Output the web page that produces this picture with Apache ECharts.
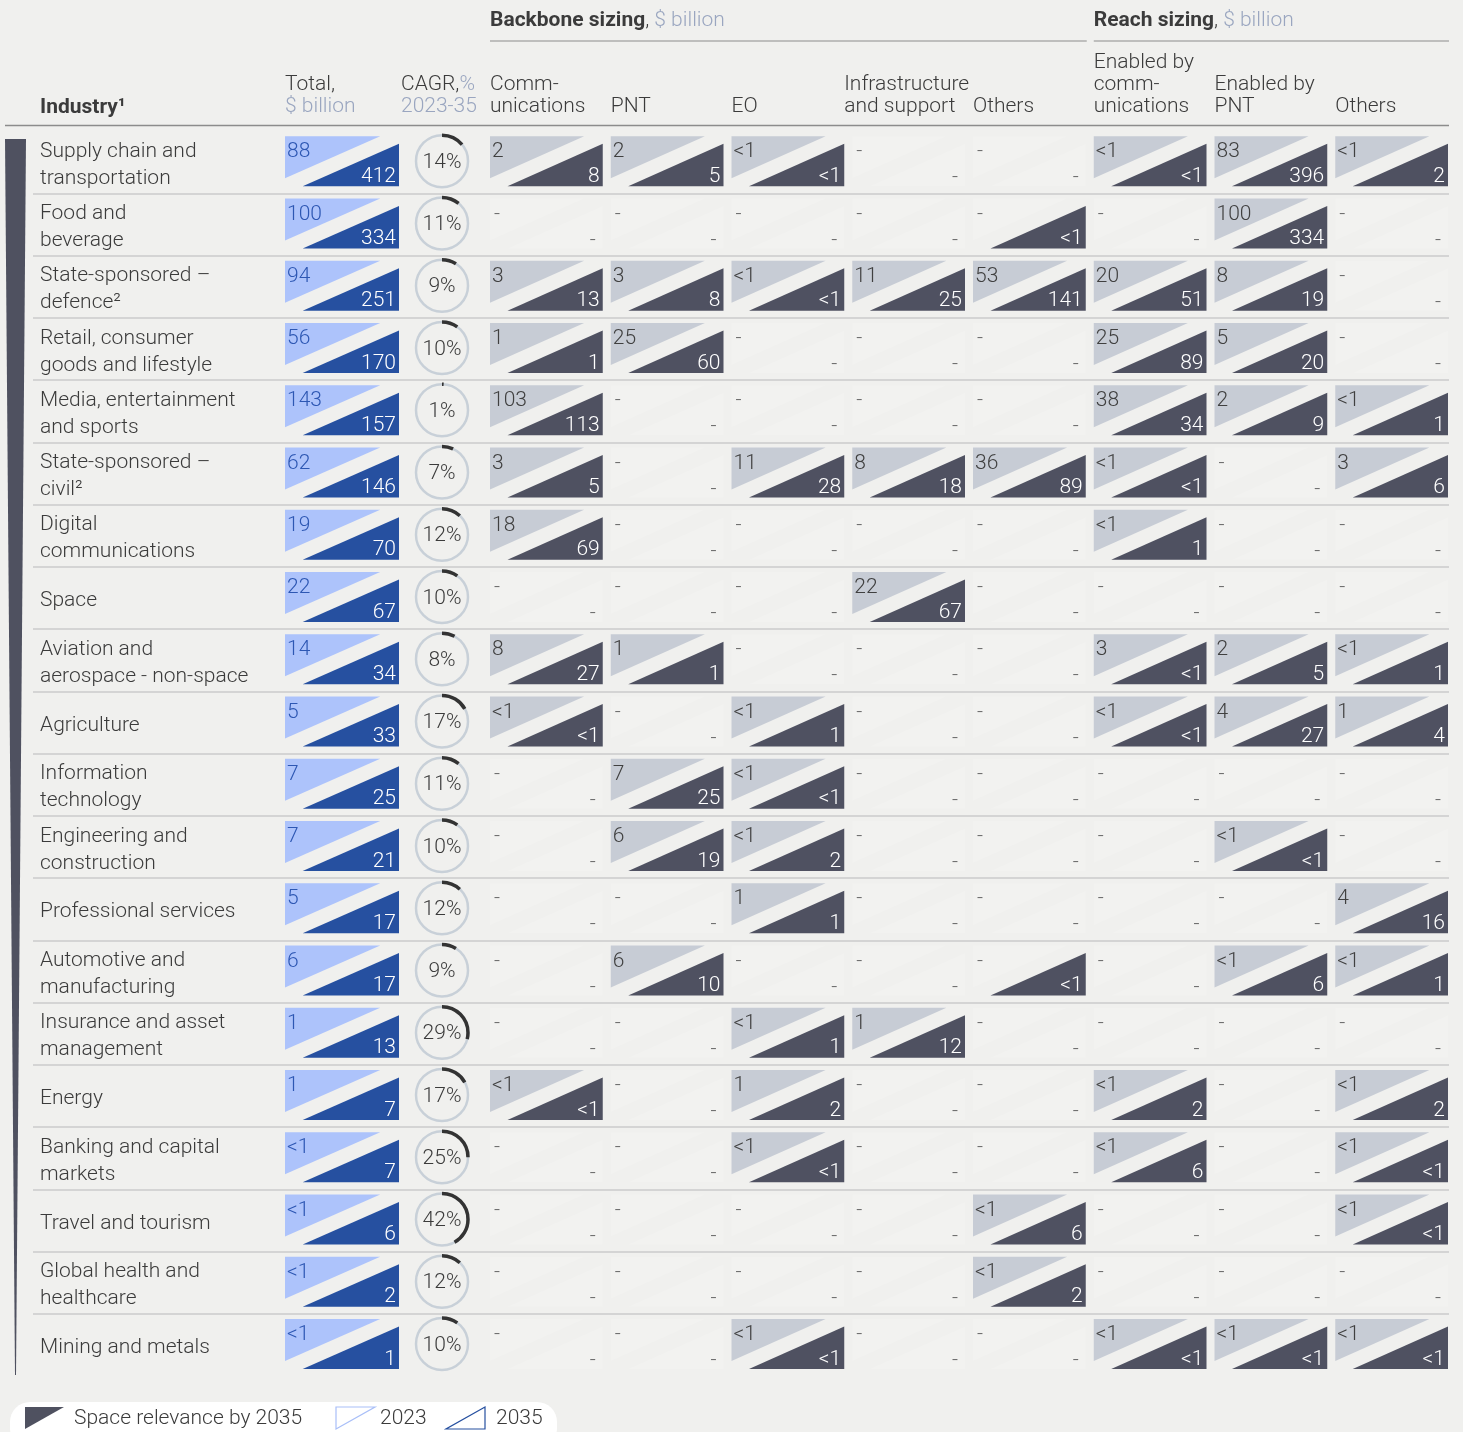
<!DOCTYPE html>
<html>
<head>
<meta charset="utf-8">
<script src="https://cdn.jsdelivr.net/npm/echarts@6/dist/echarts.min.js"></script>
<style>
  html, body { margin: 0; padding: 0; background: #f0f0ee; }
  #main { width: 1463px; height: 1432px; }
</style>
</head>
<body>
<div id="main"></div>
<script>
const industries = [
  'Supply chain and\ntransportation', 'Food and\nbeverage', 'State-sponsored –\ndefence²',
  'Retail, consumer\ngoods and lifestyle', 'Media, entertainment\nand sports', 'State-sponsored –\ncivil²',
  'Digital\ncommunications', 'Space', 'Aviation and\naerospace - non-space', 'Agriculture',
  'Information\ntechnology', 'Engineering and\nconstruction', 'Professional services',
  'Automotive and\nmanufacturing', 'Insurance and asset\nmanagement', 'Energy',
  'Banking and capital\nmarkets', 'Travel and tourism', 'Global health and\nhealthcare', 'Mining and metals'
];

const total2023 = ['88', '100', '94', '56', '143', '62', '19', '22', '14', '5', '7', '7', '5', '6', '1', '1', '<1', '<1', '<1', '<1'];
const total2035 = ['412', '334', '251', '170', '157', '146', '70', '67', '34', '33', '25', '21', '17', '17', '13', '7', '7', '6', '2', '1'];
const cagr = [14, 11, 9, 10, 1, 7, 12, 10, 8, 17, 11, 10, 12, 9, 29, 17, 25, 42, 12, 10];

const N = null;
// each cell: [2023, 2035], null = "-"
const commBackbone = [['2', '8'], N, ['3', '13'], ['1', '1'], ['103', '113'], ['3', '5'], ['18', '69'], N, ['8', '27'], ['<1', '<1'], N, N, N, N, N, ['<1', '<1'], N, N, N, N];
const pntBackbone = [['2', '5'], N, ['3', '8'], ['25', '60'], N, N, N, N, ['1', '1'], N, ['7', '25'], ['6', '19'], N, ['6', '10'], N, N, N, N, N, N];
const eoBackbone = [['<1', '<1'], N, ['<1', '<1'], N, N, ['11', '28'], N, N, N, ['<1', '1'], ['<1', '<1'], ['<1', '2'], ['1', '1'], N, ['<1', '1'], ['1', '2'], ['<1', '<1'], N, N, ['<1', '<1']];
const infraBackbone = [N, N, ['11', '25'], N, N, ['8', '18'], N, ['22', '67'], N, N, N, N, N, N, ['1', '12'], N, N, N, N, N];
const othersBackbone = [N, [N, '<1'], ['53', '141'], N, N, ['36', '89'], N, N, N, N, N, N, N, [N, '<1'], N, N, N, ['<1', '6'], ['<1', '2'], N];
const commReach = [['<1', '<1'], N, ['20', '51'], ['25', '89'], ['38', '34'], ['<1', '<1'], ['<1', '1'], N, ['3', '<1'], ['<1', '<1'], N, N, N, N, N, ['<1', '2'], ['<1', '6'], N, N, ['<1', '<1']];
const pntReach = [['83', '396'], ['100', '334'], ['8', '19'], ['5', '20'], ['2', '9'], N, N, N, ['2', '5'], ['4', '27'], N, ['<1', '<1'], N, ['<1', '6'], N, N, N, N, N, ['<1', '<1']];
const othersReach = [['<1', '2'], N, N, N, ['<1', '1'], ['3', '6'], N, N, ['<1', '1'], ['1', '4'], N, N, ['4', '16'], ['<1', '1'], N, ['<1', '2'], ['<1', '<1'], ['<1', '<1'], N, ['<1', '<1']];

const sizingCols = [commBackbone, pntBackbone, eoBackbone, infraBackbone, othersBackbone, commReach, pntReach, othersReach];
const backboneHeads = ['Comm-\nunications', 'PNT', 'EO', 'Infrastructure\nand support', 'Others'];
const reachHeads = ['Enabled by\ncomm-\nunications', 'Enabled by\nPNT', 'Others'];

const FONT = 'Roboto, "Helvetica Neue", Arial, sans-serif';
const FS = 21;
const TXT = '#3b3b3b';
const LIGHT = '#9aa6c0';

// layout
const TOP = 131, ROW_H = 62.25, BODY_H = ROW_H * industries.length;
const SZ_LEFT = 490, SZ_BAND = 120.75;

const chart = echarts.init(document.getElementById('main'));

function cellRenderer(getPair, pal) {
  return function (params, api) {
    const c = api.value(0), r = api.value(1);
    const pair = getPair(c, r) || [null, null];
    const ctr = api.coord([c, r]);
    const bw = api.size([1, 1])[0];
    const w = bw - 8, h = 50;
    const L = ctr[0] - bw / 2, T = ctr[1] - 26, R = L + w, B = T + h;
    const kids = [];
    const t23 = [[L, T], [L + 0.835 * w, T], [L, T + 0.84 * h]];
    const t35 = [[L + 0.155 * w, B], [R, B], [R, T + 0.15 * h]];
    kids.push({ type: 'polygon', shape: { points: t23 },
      style: { fill: pair[0] != null ? pal.light : 'rgba(255,255,255,0.14)' } });
    kids.push({ type: 'polygon', shape: { points: t35 },
      style: { fill: pair[1] != null ? pal.dark : 'rgba(255,255,255,0.14)' } });
    kids.push({ type: 'text', style: {
      text: pair[0] != null ? pair[0] : '-', x: L + (pair[0] != null ? 2 : 4), y: T + 16,
      fill: pair[0] != null ? pal.lightText : '#666', fontSize: FS, fontFamily: FONT, fontWeight: 300,
      align: 'left', verticalAlign: 'middle' } });
    kids.push({ type: 'text', style: {
      text: pair[1] != null ? pair[1] : '-', x: R - (pair[1] != null ? 3 : 7), y: B - (pair[1] != null ? 9.5 : 8),
      fill: pair[1] != null ? '#fff' : '#666', fontSize: FS, fontFamily: FONT, fontWeight: 300,
      align: 'right', verticalAlign: 'middle' } });
    return { type: 'group', children: kids };
  };
}

function cagrRenderer(params, api) {
  const r = api.value(1);
  const v = cagr[r];
  const ctr = api.coord([0, r]);
  const rad = 26;
  const a0 = -Math.PI / 2;
  const cy = ctr[1] - 1;
  return { type: 'group', children: [
    { type: 'circle', shape: { cx: ctr[0], cy: cy, r: rad },
      style: { fill: 'none', stroke: '#c8d0d8', lineWidth: 2.5 } },
    { type: 'arc', shape: { cx: ctr[0], cy: cy, r: rad, startAngle: a0, endAngle: a0 + v / 100 * Math.PI * 2, clockwise: true },
      style: { fill: 'none', stroke: '#333', lineWidth: 3.5 } },
    { type: 'text', style: { text: v + '%', x: ctr[0], y: cy + 1.5, fill: TXT, fontSize: FS,
      fontFamily: FONT, fontWeight: 300, align: 'center', verticalAlign: 'middle' } }
  ] };
}

const sizingData = [];
sizingCols.forEach((col, c) => col.forEach((_, r) => sizingData.push([c, r])));
const rowData = industries.map((_, r) => [0, r]);

const hiddenY = (gi) => ({ type: 'category', gridIndex: gi, data: industries, inverse: true, show: false });

// header graphics
const graphics = [];
const headText = (x, y, text, extra) => graphics.push(Object.assign({
  type: 'text', x: x, y: y,
  style: Object.assign({ text: text, fill: TXT, fontSize: FS, fontFamily: FONT, fontWeight: 300,
    lineHeight: 22, align: 'left', verticalAlign: 'bottom' }, extra || {})
}));
const rich = {
  b: { fontWeight: 'bold', fontSize: FS, fontFamily: FONT, fill: TXT, lineHeight: 22 },
  a: { fontWeight: 300, fontSize: FS, fontFamily: FONT, fill: TXT, lineHeight: 22 },
  l: { fontWeight: 300, fontSize: FS, fontFamily: FONT, fill: LIGHT, lineHeight: 22 }
};
headText(40, 119, '{b|Industry¹}', { rich: rich });
headText(285, 118, '{a|Total,}\n{l|$ billion}', { rich: rich });
headText(401, 118, '{a|CAGR,}{l|%}\n{l|2023-35}', { rich: rich });
headText(SZ_LEFT, 32, '{b|Backbone sizing}{a|,} {l|$ billion}', { rich: rich });
headText(SZ_LEFT + 5 * SZ_BAND, 32, '{b|Reach sizing}{a|,} {l|$ billion}', { rich: rich });
backboneHeads.concat(reachHeads).forEach((h, i) => {
  headText(SZ_LEFT + i * SZ_BAND + (i === 3 ? -8 : 0), 118, h);
});
graphics.push(
  { type: 'line', shape: { x1: SZ_LEFT, y1: 41, x2: SZ_LEFT + 5 * SZ_BAND - 7, y2: 41 }, style: { stroke: '#8c8c8c', lineWidth: 1.2 } },
  { type: 'line', shape: { x1: SZ_LEFT + 5 * SZ_BAND, y1: 41, x2: 1449, y2: 41 }, style: { stroke: '#8c8c8c', lineWidth: 1.2 } },
  { type: 'line', shape: { x1: 5, y1: 125.5, x2: 1449, y2: 125.5 }, style: { stroke: '#8c8c8c', lineWidth: 1.5 } },
  // space relevance wedge
  { type: 'polygon', shape: { points: [[5, 139], [26, 139], [16, 1375], [15, 1375]] }, style: { fill: '#4f5160' } },
  // legend
  { type: 'rect', shape: { x: 10, y: 1402, width: 547, height: 46, r: 20 }, style: { fill: '#ffffff' } },
  { type: 'polygon', shape: { points: [[25, 1407], [64, 1407], [25, 1429]] }, style: { fill: '#4f5160' } },
  { type: 'text', x: 74, y: 1419, style: { text: 'Space relevance by 2035', fill: TXT, fontSize: FS, fontFamily: FONT, fontWeight: 300, verticalAlign: 'middle' } },
  { type: 'polygon', shape: { points: [[336, 1407], [375, 1407], [336, 1429]] }, style: { fill: 'none', stroke: '#a9bff8', lineWidth: 1.2 } },
  { type: 'text', x: 380, y: 1419, style: { text: '2023', fill: TXT, fontSize: FS, fontFamily: FONT, fontWeight: 300, verticalAlign: 'middle' } },
  { type: 'polygon', shape: { points: [[446, 1429], [485, 1429], [485, 1407]] }, style: { fill: 'none', stroke: '#2650a0', lineWidth: 1.2 } },
  { type: 'text', x: 496, y: 1419, style: { text: '2035', fill: TXT, fontSize: FS, fontFamily: FONT, fontWeight: 300, verticalAlign: 'middle' } }
);

chart.setOption({
  backgroundColor: '#f0f0ee',
  animation: false,
  grid: [
    { left: 33, width: 1416, top: TOP, height: BODY_H },
    { left: 285, width: 122, top: TOP, height: BODY_H },
    { left: 401, width: 82, top: TOP, height: BODY_H },
    { left: SZ_LEFT, width: SZ_BAND * 8, top: TOP, height: BODY_H },
    // industry names, nudged down a little to sit like the original
    { left: 33, width: 1416, top: TOP + 3, height: BODY_H }
  ],
  xAxis: [
    { type: 'value', gridIndex: 0, show: false, min: 0, max: 1 },
    { type: 'category', gridIndex: 1, data: ['Total'], show: false },
    { type: 'category', gridIndex: 2, data: ['CAGR'], show: false },
    { type: 'category', gridIndex: 3, data: backboneHeads.concat(reachHeads), show: false },
    { type: 'value', gridIndex: 4, show: false, min: 0, max: 1 }
  ],
  yAxis: [
    {
      type: 'category', gridIndex: 0, data: industries, inverse: true,
      axisLine: { show: false }, axisTick: { show: false }, axisLabel: { show: false },
      splitLine: { show: true, interval: 0, showMinLine: false, showMaxLine: false,
        lineStyle: { color: '#cbcbcb', width: 1.5 } }
    },
    hiddenY(1), hiddenY(2), hiddenY(3),
    {
      type: 'category', gridIndex: 4, data: industries, inverse: true,
      axisLine: { show: false }, axisTick: { show: false }, splitLine: { show: false },
      axisLabel: { inside: true, margin: 7, align: 'left', color: TXT, fontSize: FS, lineHeight: 27,
        fontFamily: FONT, fontWeight: 300 }
    }
  ],
  series: [
    {
      type: 'custom', xAxisIndex: 1, yAxisIndex: 1, data: rowData,
      renderItem: cellRenderer((c, r) => [total2023[r], total2035[r]],
        { light: '#adc3fb', dark: '#2650a0', lightText: '#2d57b3' })
    },
    { type: 'custom', xAxisIndex: 2, yAxisIndex: 2, data: rowData, renderItem: cagrRenderer },
    {
      type: 'custom', xAxisIndex: 3, yAxisIndex: 3, data: sizingData,
      renderItem: cellRenderer((c, r) => sizingCols[c][r],
        { light: '#c7ccd5', dark: '#4f5161', lightText: '#404040' })
    }
  ],
  graphic: graphics
});
</script>
</body>
</html>
